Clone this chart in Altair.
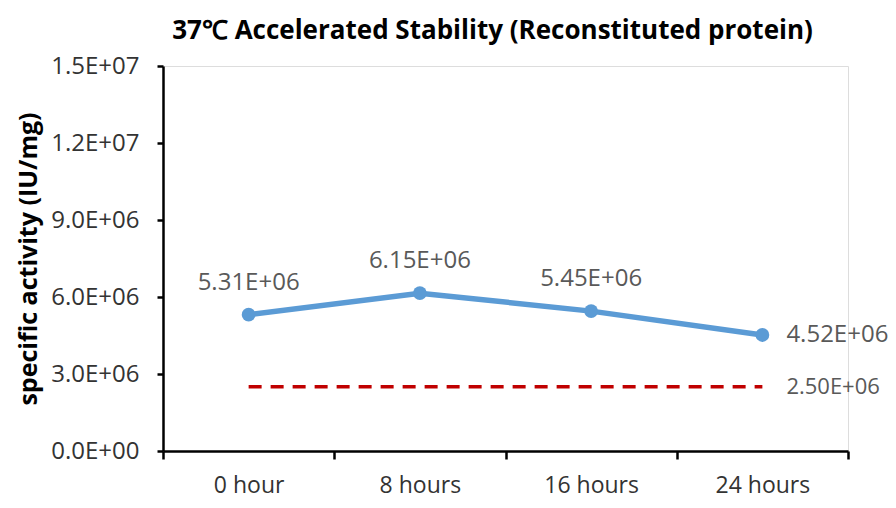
import altair as alt
import pandas as pd

categories = ["0 hour", "8 hours", "16 hours", "24 hours"]
activity = [5.31e6, 6.15e6, 5.45e6, 4.52e6]
activity_labels = ["5.31E+06", "6.15E+06", "5.45E+06", "4.52E+06"]
threshold = 2.5e6
threshold_label = "2.50E+06"
y_ticks = [0, 3e6, 6e6, 9e6, 1.2e7, 1.5e7]
y_tick_labels = ["0.0E+00", "3.0E+06", "6.0E+06", "9.0E+06", "1.2E+07", "1.5E+07"]

FONT = "Open Sans"
W, H = 685, 385
band = W / len(categories)

df = pd.DataFrame({
    "idx": list(range(len(categories))),
    "cat": categories,
    "val": activity,
    "lab": activity_labels,
})
thr = pd.DataFrame({"x": [0], "x2": [len(categories) - 1], "y": [threshold], "lab": [threshold_label]})

ylab_expr = " : ".join(
    [f"datum.value == {v} ? '{l}'" for v, l in zip(y_ticks, y_tick_labels)] + ["''"]
)
xlab_expr = " : ".join(
    [f"abs(datum.value - {i - 0.5}) < 0.01 ? '{c}'" for i, c in enumerate(categories)] + ["''"]
)

xscale = alt.Scale(domain=[-0.5, len(categories) - 0.5], nice=False, zero=False)
yscale = alt.Scale(domain=[0, 1.5e7], nice=False)

xaxis = alt.Axis(
    values=[i - 0.5 for i in range(len(categories) + 1)],
    labelExpr=xlab_expr, labelOffset=band / 2, title=None, grid=False,
    tickSize=8, tickWidth=2.5, tickColor="black", domainColor="black", domainWidth=2.5,
    labelFont=FONT, labelFontSize=23, labelColor="#333333", labelPadding=15,
    labelFlush=False, labelOverlap=False,
)
yaxis = alt.Axis(
    values=y_ticks, labelExpr=ylab_expr, title="specific activity (IU/mg)", grid=False,
    tickSize=6, tickWidth=2.5, tickColor="black", domainColor="black", domainWidth=2.5,
    labelFont=FONT, labelFontSize=24, labelColor="#333333", labelPadding=18,
    titleFont=FONT, titleFontSize=25, titleFontWeight="bold", titleColor="black",
    titlePadding=9, labelFlush=False, labelOverlap=False,
)

base = alt.Chart(df)

line = base.mark_line(color="#5B9BD5", strokeWidth=5.5, point=alt.OverlayMarkDef(color="#5B9BD5", size=190, opacity=1)).encode(
    x=alt.X("idx:Q", scale=xscale, axis=xaxis),
    y=alt.Y("val:Q", scale=yscale, axis=yaxis),
)

labels_above = base.transform_filter("datum.idx < 3").mark_text(
    font=FONT, fontSize=24, color="#595959", dy=-32, align="center", baseline="middle"
).encode(x=alt.X("idx:Q", scale=xscale), y=alt.Y("val:Q", scale=yscale), text="lab:N")

labels_right = base.transform_filter("datum.idx == 3").mark_text(
    font=FONT, fontSize=24, color="#595959", dx=24, align="left", baseline="middle"
).encode(x=alt.X("idx:Q", scale=xscale), y=alt.Y("val:Q", scale=yscale), text="lab:N")

rule = alt.Chart(thr).mark_rule(color="#C00000", strokeWidth=3.5, strokeDash=[13, 9]).encode(
    x=alt.X("x:Q", scale=xscale), x2="x2:Q", y=alt.Y("y:Q", scale=yscale)
)
rule_label = alt.Chart(thr).mark_text(
    font=FONT, fontSize=22, color="#595959", dx=24, align="left", baseline="middle"
).encode(x=alt.X("x2:Q", scale=xscale), y=alt.Y("y:Q", scale=yscale), text="lab:N")

chart = alt.layer(rule, line, labels_above, labels_right, rule_label).properties(
    width=W, height=H,
    title=alt.TitleParams(
        "37℃ Accelerated  Stability (Reconstituted protein)",
        font=FONT, fontSize=26, fontWeight="bold", color="black",
        anchor="middle", frame="group", offset=10, dx=-13,
    ),
    autosize=alt.AutoSizeParams(type="none"),
    padding={"left": 155, "top": 58, "right": 40, "bottom": 49},
).configure_view(stroke=None).configure(background="white")

chart.save("out.html", embed_options={"renderer": "svg", "actions": False})
